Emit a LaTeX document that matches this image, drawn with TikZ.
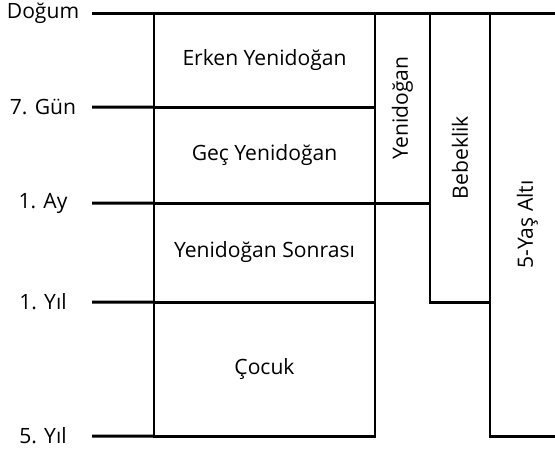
\documentclass[tikz,border=0pt]{standalone}
\usepackage{fontspec}
\usepackage{graphicx}
\setmainfont{Open Sans}
\begin{document}
\begin{tikzpicture}[line width=1.7pt, font=\fontsize{12}{14}\selectfont]

    % sınırlar
    \useasboundingbox (0,0) rectangle (11.1,-9.02);
    \clip (0,0) rectangle (11.1,-9.02);

    % stiller
    \tikzstyle{etiket}=[minimum width=1.96cm, inner sep=0pt, outer sep=0pt]
    \tikzstyle{donem}=[draw, rectangle, inner sep=0pt, outer sep=0pt, minimum width=4.42cm]
    \tikzstyle{dikey}=[draw, rectangle, inner sep=0pt, outer sep=0pt]

    % zaman etiketleri
    \node[etiket] (dogum) at (0.86,-0.26) {Doğum};
    \node[etiket] (gun7) at (0.86,-2.14) {7. Gün};
    \node[etiket] (ay1) at (0.86,-4.06) {1. Ay};
    \node[etiket] (yil1) at (0.86,-6.04) {1. Yıl};
    \node[etiket] (yil5) at (0.86,-8.72) {5. Yıl};

    % dönemler
    \node[donem, minimum height=1.88cm] (erken) at (5.29,-1.20) {Erken Yenidoğan};
    \node[donem, minimum height=1.92cm] (gec) at (5.29,-3.10) {Geç Yenidoğan};
    \node[donem, minimum height=1.98cm] (sonra) at (5.29,-5.05) {Yenidoğan Sonrası};
    \node[donem, minimum height=2.68cm] (cocuk) at (5.29,-7.38) {Çocuk};

    % dikey dönemler
    \node[dikey, minimum width=1.10cm, minimum height=3.80cm] (yenidogan) at (8.05,-2.16) {\rotatebox{90}{Yenidoğan}};
    \node[dikey, minimum width=1.20cm, minimum height=5.78cm] (bebek) at (9.20,-3.15) {\rotatebox{90}{Bebeklik}};
    \node[dikey, minimum width=1.50cm, minimum height=8.46cm] (besyas) at (10.55,-4.49) {\rotatebox{90}{5-Yaş Altı}};

    % çizgiler
    \draw (dogum.east) -- (erken.north west);
    \draw (gun7.east) -- (erken.south west);
    \draw (ay1.east) -- (gec.south west);
    \draw (yil1.east) -- (sonra.south west);
    \draw (yil5.east) -- (cocuk.south west);

\end{tikzpicture}
\end{document}
